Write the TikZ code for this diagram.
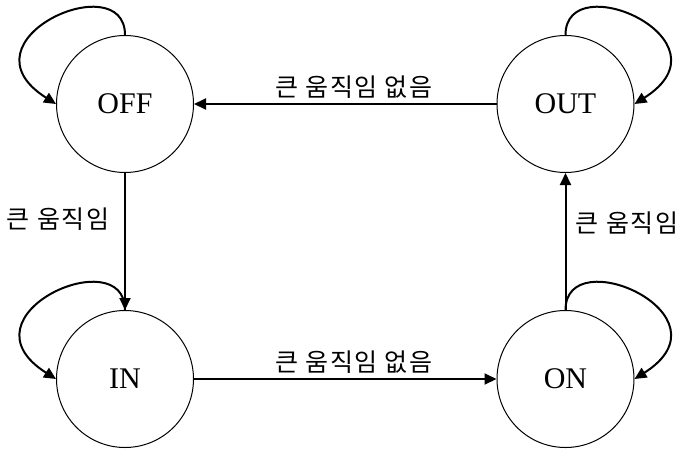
\documentclass[tikz,border=0pt]{standalone}
\usepackage{fontspec}
\setmainfont{Liberation Serif}
\newfontfamily\kofont[LetterSpace=6]{Noto Sans CJK KR}
\usetikzlibrary{arrows.meta}
\begin{document}
\begin{tikzpicture}[x=1pt,y=-1pt,
  state/.style={circle,draw,line width=1pt,minimum size=137pt,inner sep=0pt,font=\fontsize{30}{30}\selectfont},
  conn/.style={line width=2pt,-{Triangle[length=12pt,width=11pt]}},
  lbl/.style={font=\kofont\fontsize{25}{25}\selectfont,inner sep=0pt}]
\useasboundingbox (0,0) rectangle (678,448);
\node[state] (OFF) at (125,104) {OFF};
\node[state] (OUT) at (565.5,104) {OUT};
\node[state] (IN) at (125,379) {IN};
\node[state] (ON) at (565.5,379) {ON};
\draw[conn] (OUT) -- (OFF);
\draw[conn] (OFF) -- (IN);
\draw[conn] (IN) -- (ON);
\draw[conn] (ON) -- (OUT);
\draw[conn] (OFF.north) .. controls +(0,-70) and +(-101,-64) .. (OFF.west);
\draw[conn] (OUT.north) .. controls +(0,-70) and +(101,-64) .. (OUT.east);
\draw[conn] (IN.north) .. controls +(0,-70) and +(-101,-64) .. (IN.west);
\draw[conn] (ON.north) .. controls +(0,-70) and +(101,-64) .. (ON.east);
\node[lbl] (l1) at (354,87) {큰 움직임 없음};
\node[lbl] (l2) at (354,362) {큰 움직임 없음};
\node[lbl] (l3) at (58,219) {큰 움직임};
\node[lbl] (l4) at (627,223) {큰 움직임};
\end{tikzpicture}
\end{document}
